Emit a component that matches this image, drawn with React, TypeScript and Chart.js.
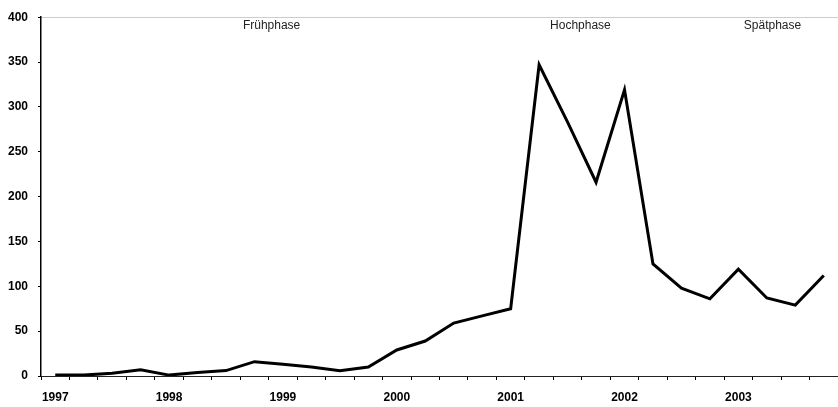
import React, { useEffect, useRef } from "react";
import { Chart, registerables } from "chart.js";

Chart.register(...registerables);

const years = ["1997", "1998", "1999", "2000", "2001", "2002", "2003"];
const quarters = ["Q1", "Q2", "Q3", "Q4"];
const categories: string[] = years.flatMap((y) => quarters.map((q) => `${y} ${q}`));

const values = [
  1, 1, 3, 7, 1, 4, 6, 16, 13, 10, 6, 10, 29, 39, 59, 67, 75, 347, 283, 216, 319, 125, 98, 86,
  119, 87, 79, 112,
];

const yTicks = [0, 50, 100, 150, 200, 250, 300, 350, 400];

const phaseLabels = ["Frühphase", "Hochphase", "Spätphase"];
const phasePositions = [7.6, 18.45, 25.2]; // in category units (quarter index)
const phaseValue = 390;

const phasePlugin = {
  id: "phaseLabels",
  afterDatasetsDraw(chart: any) {
    const { ctx, scales } = chart;
    ctx.save();
    ctx.font = "12px 'Liberation Sans', Arial, sans-serif";
    ctx.fillStyle = "#222";
    ctx.textAlign = "center";
    ctx.textBaseline = "middle";
    phaseLabels.forEach((t, i) => {
      ctx.fillText(t, scales.x.getPixelForValue(phasePositions[i]), scales.y.getPixelForValue(phaseValue));
    });
    ctx.restore();
  },
};

export default function App() {
  const ref = useRef<HTMLCanvasElement | null>(null);
  useEffect(() => {
    document.body.style.margin = "0";
    if (!ref.current) return;
    const chart = new Chart(ref.current, {
      type: "line",
      data: {
        labels: categories,
        datasets: [
          {
            data: values,
            borderColor: "#000",
            borderWidth: 3,
            pointRadius: 0,
            tension: 0,
            borderJoinStyle: "miter",
          },
        ],
      },
      options: {
        animation: false,
        responsive: true,
        maintainAspectRatio: false,
        layout: { padding: { top: 13, left: 0, right: 0, bottom: 0 } },
        plugins: { legend: { display: false }, tooltip: { enabled: false } },
        scales: {
          x: {
            type: "category",
            offset: true,
            afterFit: (s: any) => {
              s.height = 31;
            },
            grid: {
              offset: true,
              drawOnChartArea: false,
              drawTicks: true,
              tickLength: 4,
              tickColor: "#000",
            },
            border: { display: true, color: "#222", width: 1 },
            ticks: {
              autoSkip: false,
              maxRotation: 0,
              padding: 10,
              color: "#000",
              font: { family: "'Liberation Sans', Arial, sans-serif", size: 12, weight: "bold" },
              callback: (_v: any, i: number) => (i % 4 === 0 ? categories[i].slice(0, 4) : ""),
            },
          },
          y: {
            min: 0,
            max: 400,
            afterFit: (s: any) => {
              s.width = 41;
            },
            afterBuildTicks: (s: any) => {
              s.ticks = yTicks.map((v) => ({ value: v }));
            },
            grid: {
              drawTicks: true,
              tickLength: 3,
              tickColor: "#000",
              color: (c: any) => (c.tick && c.tick.value === 400 ? "#9a9a9a" : "rgba(0,0,0,0)"),
              lineWidth: 1,
            },
            border: { display: true, color: "#000", width: 1.5, dash: [1, 1] },
            ticks: {
              padding: 10,
              color: "#000",
              font: { family: "'Liberation Sans', Arial, sans-serif", size: 12, weight: "bold" },
            },
          },
        },
      },
      plugins: [phasePlugin],
    });
    return () => chart.destroy();
  }, []);
  return (
    <div style={{ position: "absolute", left: 0, top: 0, width: 838, height: 407, background: "#fff" }}>
      <canvas ref={ref} />
    </div>
  );
}
